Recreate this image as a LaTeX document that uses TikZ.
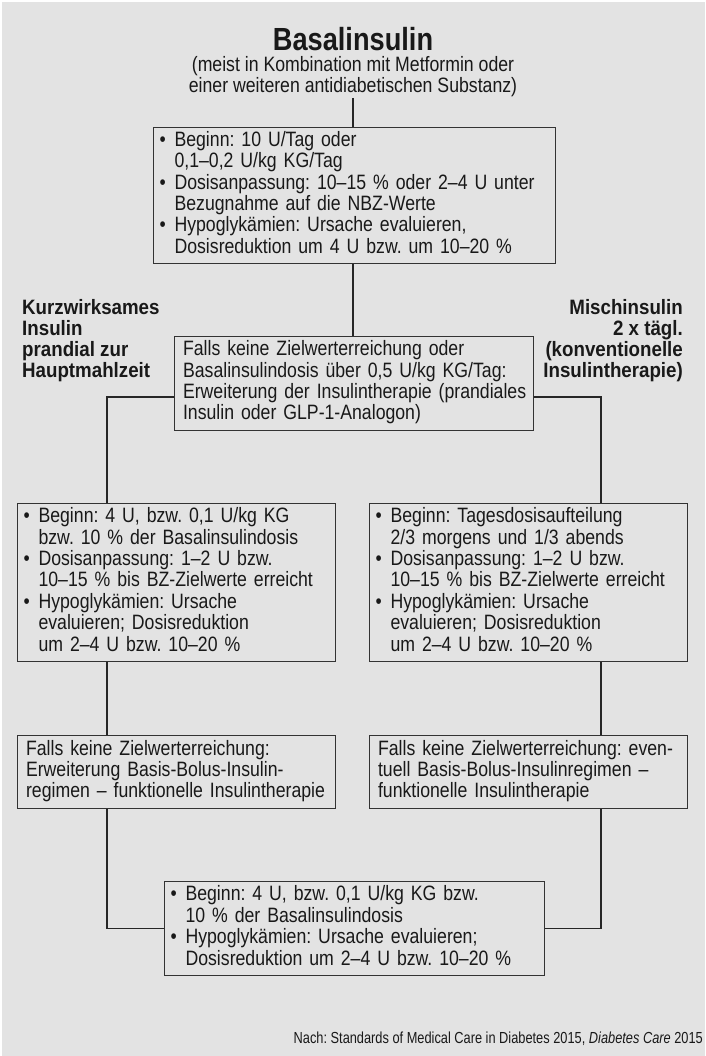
\documentclass[tikz,border=0pt]{standalone}
\usepackage{fontspec}
\setmainfont{Liberation Sans}[FakeStretch=0.85]
\newfontfamily\footfont{Liberation Sans}[FakeStretch=0.8]
\newfontfamily\sidefont{Liberation Sans}[FakeStretch=0.9]
\definecolor{bggray}{RGB}{227,227,227}
\definecolor{ink}{RGB}{25,25,25}
\newcommand{\bodyfont}{\fontsize{20.8}{21}\selectfont}
\newcommand{\bu}{\makebox[17pt][l]{\hspace{2pt}\textbullet}}
\newcommand{\ct}{\hspace*{17pt}}
\frenchspacing
\begin{document}
\frenchspacing
\begin{tikzpicture}[x=1pt,y=-1pt,
  box/.style={draw=black!80, line width=1.1pt, rectangle, anchor=north west,
    align=left, inner ysep=0pt, font=\bodyfont\frenchspacing, text=ink},
  bbox/.style={box, inner xsep=4pt},
  tbox/.style={box, inner xsep=8.5pt},
  conn/.style={draw=black!85, line width=1.1pt},
  side/.style={font=\sidefont\bodyfont\bfseries, text=ink, inner sep=0pt}
  ]
\fill[white] (0,0) rectangle (705,1056);
\fill[bggray] (2,2) rectangle (705,1056);
\useasboundingbox (0,0) rectangle (705,1056);

% title
\node[font=\fontsize{32}{34}\selectfont\bfseries, text=ink, inner sep=0pt] (title) at (353,39) {Basalinsulin};
\node[font=\bodyfont, text=ink, align=center, inner sep=0pt] (sub) at (353,77)
  {(meist in Kombination mit Metformin oder\\einer weiteren antidiabetischen Substanz)};
\coordinate (t) at (353,98);

% box 1
\node[bbox, text width=394pt, minimum height=136pt] (b1) at (153,127) {%
\begin{tabular}{@{}l@{}}
\bu Beginn: 10 U/Tag oder\\
\ct 0,1–0,2 U/kg KG/Tag\\
\bu Dosisanpassung: 10–15 \% oder 2–4 U unter\\
\ct Bezugnahme auf die NBZ-Werte\\
\bu Hypoglykämien: Ursache evaluieren,\\
\ct Dosisreduktion um 4 U bzw. um 10–20 \%
\end{tabular}};

% box 2
\node[tbox, text width=342pt, minimum height=94pt] (b2) at (174,336) {%
\begin{tabular}{@{}l@{}}
Falls keine Zielwerterreichung oder\\
Basalinsulindosis über 0,5 U/kg KG/Tag:\\
Erweiterung der Insulintherapie (prandiales\\
Insulin oder GLP-1-Analogon)
\end{tabular}};

% side labels
\node[side, anchor=west, align=left] (sl) at (22,340.5)
  {Kurzwirksames\\Insulin\\prandial zur\\Hauptmahlzeit};
\node[side, anchor=east, align=right] (sr) at (683,340.5)
  {Mischinsulin\\2 x tägl.\\(konventionelle\\Insulintherapie)};

% box 3
\node[bbox, text width=310pt, minimum height=158pt] (b3l) at (17,503) {%
\begin{tabular}{@{}l@{}}
\bu Beginn: 4 U, bzw. 0,1 U/kg KG\\
\ct bzw. 10 \% der Basalinsulindosis\\
\bu Dosisanpassung: 1–2 U bzw.\\
\ct 10–15 \% bis BZ-Zielwerte erreicht\\
\bu Hypoglykämien: Ursache\\
\ct evaluieren; Dosisreduktion\\
\ct um 2–4 U bzw. 10–20 \%
\end{tabular}};
\node[bbox, text width=310pt, minimum height=158pt] (b3r) at (369,503) {%
\begin{tabular}{@{}l@{}}
\bu Beginn: Tagesdosisaufteilung\\
\ct 2/3 morgens und 1/3 abends\\
\bu Dosisanpassung: 1–2 U bzw.\\
\ct 10–15 \% bis BZ-Zielwerte erreicht\\
\bu Hypoglykämien: Ursache\\
\ct evaluieren; Dosisreduktion\\
\ct um 2–4 U bzw. 10–20 \%
\end{tabular}};

% box 4
\node[tbox, text width=301pt, minimum height=73pt] (b4l) at (17,735) {%
\begin{tabular}{@{}l@{}}
Falls keine Zielwerterreichung:\\
Erweiterung Basis-Bolus-Insulin-\\
regimen – funktionelle Insulintherapie
\end{tabular}};
\node[tbox, text width=301pt, minimum height=73pt] (b4r) at (369,735) {%
\begin{tabular}{@{}l@{}}
Falls keine Zielwerterreichung: even-\\
tuell Basis-Bolus-Insulinregimen –\\
funktionelle Insulintherapie
\end{tabular}};

% box 5
\node[bbox, text width=372pt, minimum height=94pt] (b5) at (164,881) {%
\begin{tabular}{@{}l@{}}
\bu Beginn: 4 U, bzw. 0,1 U/kg KG bzw.\\
\ct 10 \% der Basalinsulindosis\\
\bu Hypoglykämien: Ursache evaluieren;\\
\ct Dosisreduktion um 2–4 U bzw. 10–20 \%
\end{tabular}};

% footer
\node[anchor=base east, inner sep=0pt, text=ink, font=\footfont\fontsize{16}{18}\selectfont] (foot) at (703,1043)
  {Nach: Standards of Medical Care in Diabetes 2015, \textit{Diabetes Care} 2015};

% connectors
\coordinate (jl) at (107,397);
\coordinate (jr) at (601,397);
\draw[conn] (t) -- (t |- b1.north);
\draw[conn] (t |- b1.south) -- (t |- b2.north);
\draw[conn] (b2.west |- jl) -| (b3l.north -| jl);
\draw[conn] (b2.east |- jr) -| (b3r.north -| jr);
\draw[conn] (b3l.south -| jl) -- (b4l.north -| jl);
\draw[conn] (b3r.south -| jr) -- (b4r.north -| jr);
\draw[conn] (b4l.south -| jl) |- (b5.west);
\draw[conn] (b4r.south -| jr) |- (b5.east);
\end{tikzpicture}
\end{document}
